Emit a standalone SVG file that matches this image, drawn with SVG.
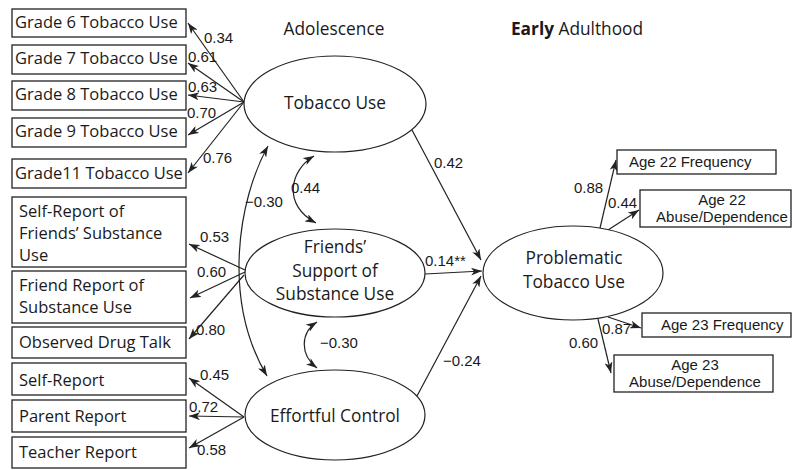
<svg xmlns="http://www.w3.org/2000/svg" width="792" height="470" viewBox="0 0 792 470">
<style>
.box{fill:#fff;stroke:#222;stroke-width:1.3}
.ell{fill:#fff;stroke:#222;stroke-width:1.2}
.lt{font-family:"Open Sans","Noto Sans",sans-serif;font-size:16.5px;fill:#1a1a1a}
.et{font-family:"Open Sans","Noto Sans",sans-serif;font-size:17.3px;fill:#1a1a1a;text-anchor:middle}
.rt{font-family:"Liberation Sans",Arial,sans-serif;font-size:15px;fill:#1a1a1a}
.num{font-family:"Liberation Sans",Arial,sans-serif;font-size:15px;fill:#1a1a1a}
.ln{fill:none;stroke:#222;stroke-width:1.2}
</style>
<defs>
<marker id="ah" markerUnits="userSpaceOnUse" markerWidth="12" markerHeight="8" refX="11" refY="4" orient="auto-start-reverse">
<path d="M0,0 L11,4 L0,8 L3,4 z" fill="#222"/>
</marker>
</defs>

<g id="headers">
<text class="et" x="334" y="35">Adolescence</text>
<text class="et" x="577" y="35"><tspan font-weight="bold">Early</tspan> Adulthood</text>
</g>

<g id="connectors">
<!-- Tobacco Use loadings -->
<line class="ln" x1="244" y1="102" x2="188" y2="23" marker-end="url(#ah)"/>
<line class="ln" x1="244" y1="102" x2="188" y2="63" marker-end="url(#ah)"/>
<line class="ln" x1="244" y1="102" x2="188" y2="95" marker-end="url(#ah)"/>
<line class="ln" x1="244" y1="102" x2="188" y2="135" marker-end="url(#ah)"/>
<line class="ln" x1="244" y1="102" x2="188" y2="173" marker-end="url(#ah)"/>
<!-- Friends loadings -->
<line class="ln" x1="245" y1="270" x2="189" y2="244" marker-end="url(#ah)"/>
<line class="ln" x1="245" y1="272" x2="190" y2="298" marker-end="url(#ah)"/>
<line class="ln" x1="244" y1="275" x2="189" y2="339" marker-end="url(#ah)"/>
<!-- Effortful loadings -->
<line class="ln" x1="244" y1="417" x2="189" y2="378" marker-end="url(#ah)"/>
<line class="ln" x1="244" y1="417" x2="189" y2="416" marker-end="url(#ah)"/>
<line class="ln" x1="244" y1="417" x2="189" y2="448" marker-end="url(#ah)"/>
<!-- Structural paths -->
<line class="ln" x1="412" y1="130" x2="481" y2="260" marker-end="url(#ah)"/>
<line class="ln" x1="425" y1="274" x2="482" y2="271" marker-end="url(#ah)"/>
<line class="ln" x1="417" y1="396" x2="481" y2="276" marker-end="url(#ah)"/>
<!-- Problematic indicators -->
<line class="ln" x1="600" y1="228" x2="616" y2="160" marker-end="url(#ah)"/>
<line class="ln" x1="608" y1="230" x2="639" y2="210" marker-end="url(#ah)"/>
<line class="ln" x1="608" y1="317" x2="641" y2="328" marker-end="url(#ah)"/>
<line class="ln" x1="598" y1="319" x2="611" y2="373" marker-end="url(#ah)"/>
<!-- Correlations -->
<path class="ln" d="M268,146 C238,200 222,300 267,376" marker-start="url(#ah)" marker-end="url(#ah)"/>
<path class="ln" d="M314,156 C290,170 282,205 316,223" marker-start="url(#ah)" marker-end="url(#ah)"/>
<path class="ln" d="M317,322 C300,333 300,355 317,368" marker-start="url(#ah)" marker-end="url(#ah)"/>
</g>

<g id="labels">
<text class="num" x="204" y="43">0.34</text>
<text class="num" x="188" y="62">0.61</text>
<text class="num" x="188" y="92">0.63</text>
<text class="num" x="187" y="118">0.70</text>
<text class="num" x="203" y="163">0.76</text>
<text class="num" x="291" y="193">0.44</text>
<text class="num" x="245" y="207">−0.30</text>
<text class="num" x="200" y="242">0.53</text>
<text class="num" x="197" y="277">0.60</text>
<text class="num" x="196" y="335">0.80</text>
<text class="num" x="320" y="348">−0.30</text>
<text class="num" x="200" y="380">0.45</text>
<text class="num" x="189" y="412">0.72</text>
<text class="num" x="197" y="455">0.58</text>
<text class="num" x="434" y="168">0.42</text>
<text class="num" x="425" y="266">0.14**</text>
<text class="num" x="443" y="366">−0.24</text>
<text class="num" x="574" y="193">0.88</text>
<text class="num" x="608" y="208">0.44</text>
<text class="num" x="602" y="334">0.87</text>
<text class="num" x="569" y="348">0.60</text>
</g>

<g id="g6"><rect class="box" x="12" y="9" width="174" height="28"/><text class="lt" x="15" y="28">Grade 6 Tobacco Use</text></g>
<g id="g7"><rect class="box" x="12" y="45" width="174" height="29"/><text class="lt" x="15" y="64">Grade 7 Tobacco Use</text></g>
<g id="g8"><rect class="box" x="12" y="81" width="174" height="29"/><text class="lt" x="15" y="100">Grade 8 Tobacco Use</text></g>
<g id="g9"><rect class="box" x="12" y="118" width="174" height="29"/><text class="lt" x="15" y="137">Grade 9 Tobacco Use</text></g>
<g id="g11"><rect class="box" x="12" y="159" width="174" height="29"/><text class="lt" x="15" y="179">Grade11 Tobacco Use</text></g>

<g id="srf"><rect class="box" x="12" y="197" width="174" height="70"/><text class="lt" x="19" y="217">Self-Report of</text><text class="lt" x="19" y="239">Friends’ Substance</text><text class="lt" x="19" y="261">Use</text></g>
<g id="frs"><rect class="box" x="12" y="271" width="174" height="52"/><text class="lt" x="19" y="291">Friend Report of</text><text class="lt" x="19" y="313">Substance Use</text></g>
<g id="odt"><rect class="box" x="12" y="327" width="174" height="31"/><text class="lt" x="19" y="348">Observed Drug Talk</text></g>
<g id="sr"><rect class="box" x="12" y="363" width="174" height="32"/><text class="lt" x="19" y="386">Self-Report</text></g>
<g id="pr"><rect class="box" x="12" y="400" width="174" height="32"/><text class="lt" x="19" y="422">Parent Report</text></g>
<g id="tr"><rect class="box" x="12" y="437" width="174" height="31"/><text class="lt" x="19" y="458">Teacher Report</text></g>

<g id="tobacco"><ellipse class="ell" cx="335" cy="104" rx="91" ry="48"/><text class="et" x="335" y="109">Tobacco Use</text></g>
<g id="friends"><ellipse class="ell" cx="335" cy="273" rx="90" ry="44"/><text class="et" x="335" y="253">Friends’</text><text class="et" x="335" y="277">Support of</text><text class="et" x="335" y="300">Substance Use</text></g>
<g id="effortful"><ellipse class="ell" cx="335" cy="415" rx="90" ry="45"/><text class="et" x="335" y="422">Effortful Control</text></g>
<g id="problematic"><ellipse class="ell" cx="573" cy="273" rx="90" ry="47"/><text class="et" x="574" y="264">Problematic</text><text class="et" x="574" y="288">Tobacco Use</text></g>

<g id="a22f"><rect class="box" x="617" y="150" width="159" height="24"/><text class="rt" x="629" y="167">Age 22 Frequency</text></g>
<g id="a22a"><rect class="box" x="640" y="190" width="151" height="37"/><text class="rt" x="722" y="205" text-anchor="middle">Age 22</text><text class="rt" x="722" y="222" text-anchor="middle">Abuse/Dependence</text></g>
<g id="a23f"><rect class="box" x="642" y="313" width="149" height="24"/><text class="rt" x="661" y="330">Age 23 Frequency</text></g>
<g id="a23a"><rect class="box" x="614" y="355" width="159" height="37"/><text class="rt" x="695" y="370" text-anchor="middle">Age 23</text><text class="rt" x="695" y="387" text-anchor="middle">Abuse/Dependence</text></g>
</svg>
